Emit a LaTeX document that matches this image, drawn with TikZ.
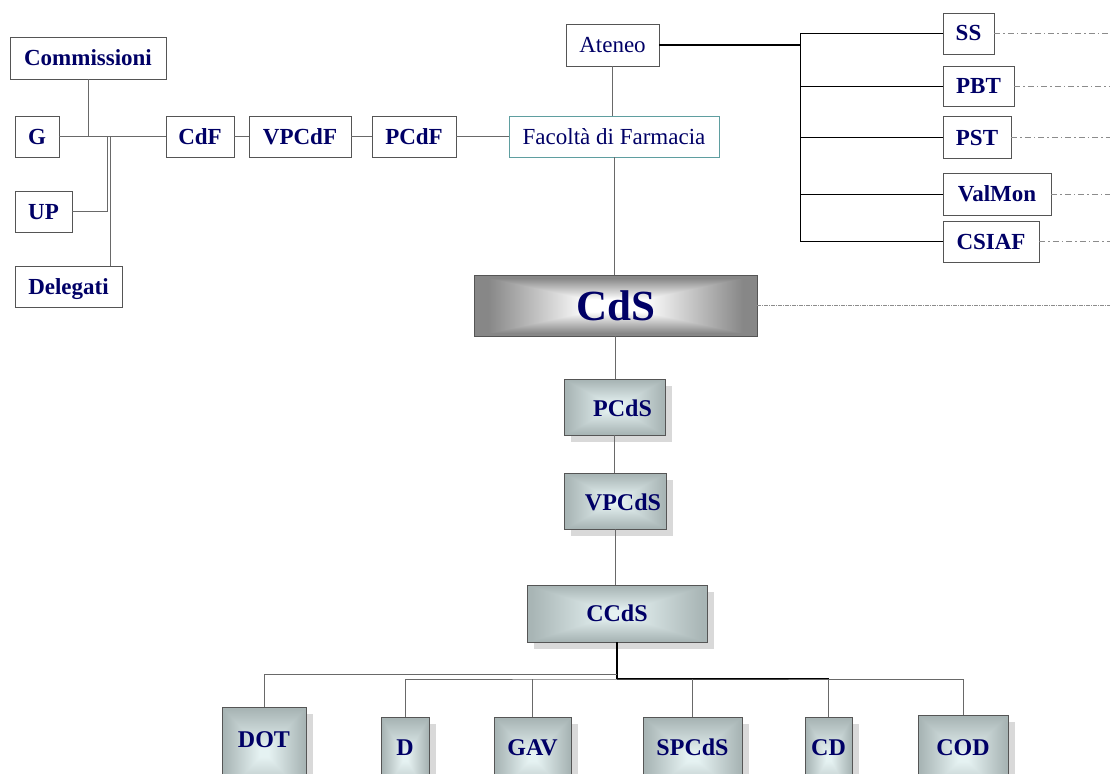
\documentclass[tikz,border=0pt]{standalone}
\usepackage{fontspec}
\setmainfont{Liberation Serif}
\usetikzlibrary{shadows}
\definecolor{navy}{RGB}{0,0,102}
\definecolor{tealb}{RGB}{95,158,160}
\definecolor{boxline}{RGB}{85,85,85}
\definecolor{conn}{RGB}{105,105,105}
\definecolor{dashc}{RGB}{140,140,140}
\pgfdeclarefunctionalshading{cdsgrad}{\pgfpoint{-50bp}{-50bp}}{\pgfpoint{50bp}{50bp}}{}{abs exch abs 2 copy lt {exch} if pop 25 div 0.2 sub 0.7 div dup 0 lt {pop 0} if dup 1 gt {pop 1} if 0.47 mul 1 exch sub dup dup}
\pgfdeclarefunctionalshading{bluegrad}{\pgfpoint{-50bp}{-50bp}}{\pgfpoint{50bp}{50bp}}{}{abs exch abs 2 copy lt {exch} if pop 25 div 0.1 sub 0.85 div dup 0 lt {pop 0} if dup 1 gt {pop 1} if dup 0.24 mul 0.90 exch sub exch 0.24 mul 0.95 exch sub dup}
\tikzset{
  plain/.style={draw=boxline, line width=0.8pt, fill=white, inner sep=0pt, text=navy,
    text height=15pt, text depth=0pt,
    font=\fontsize{23}{23}\selectfont\bfseries},
  plainreg/.style={plain, font=\fontsize{23}{23}\selectfont},
  gbox/.style={draw=boxline, line width=0.8pt, shade, shading=bluegrad, inner sep=0pt,
    drop shadow={shadow xshift=7pt, shadow yshift=-7pt, fill=black!15, opacity=1}},
  lbl/.style={text=navy, inner sep=0pt, text height=16pt, text depth=0pt,
    font=\fontsize{24}{24}\selectfont\bfseries},
  conline/.style={draw=conn, line width=0.8pt},
  busline/.style={draw=black, line width=0.8pt},
  dashline/.style={draw=dashc, line width=0.8pt, dash pattern=on 6pt off 3pt on 1.5pt off 3pt},
  densedash/.style={draw=dashc, line width=1pt, dash pattern=on 4pt off 1pt on 1pt off 1pt},
}
\begin{document}
\begin{tikzpicture}[x=1pt,y=-1pt]
\useasboundingbox (0,0) rectangle (1110,773);
\clip (0,0) rectangle (1110,773);
\fill[white] (0,0) rectangle (1110,773);

% left group
\node[plain, minimum width=156, minimum height=42] (comm) at (88,58) {Commissioni};
\node[plain, minimum width=44, minimum height=41] (G) at (37,136.5) {G};
\node[plain, minimum width=57, minimum height=41] (UP) at (43.5,211.5) {UP};
\node[plain, minimum width=107, minimum height=41] (Del) at (68.5,286.5) {Delegati};
\node[plain, minimum width=68, minimum height=41] (CdF) at (200,136.5) {CdF};
\node[plain, minimum width=102, minimum height=41] (VPCdF) at (300,136.5) {VPCdF};
\node[plain, minimum width=84, minimum height=41] (PCdF) at (414,136.5) {PCdF};
\node[plainreg, draw=tealb, minimum width=210, minimum height=41] (Fac) at (614,136.5) {Facoltà di Farmacia};
\node[plainreg, minimum width=93, minimum height=42] (Ateneo) at (612.5,45) {Ateneo};

% right group
\node[plain, minimum width=51, minimum height=41] (SS) at (968.5,33.5) {SS};
\node[plain, minimum width=71, minimum height=40] (PBT) at (978.5,86) {PBT};
\node[plain, minimum width=68, minimum height=42] (PST) at (977,137.5) {PST};
\node[plain, minimum width=108, minimum height=42] (ValMon) at (997,194) {ValMon};
\node[plain, minimum width=96, minimum height=41] (CSIAF) at (991,241.5) {CSIAF};

\coordinate (busx) at (800,0);
\coordinate (redge) at (1110,0);
\coordinate (j1) at (107,136.5);
\coordinate (j2) at (110,136.5);

% CdS chain
\node[draw=boxline, line width=0.8pt, shade, shading=cdsgrad, inner sep=0pt,
  minimum width=283, minimum height=61, text=navy, text height=29pt, text depth=0pt,
  font=\fontsize{43}{43}\selectfont\bfseries] (CdS) at (615.5,305.5) {CdS};
\node[gbox, minimum width=101, minimum height=56] (PCdS) at (614.5,407) {};
\node[lbl] (PCdSt) at (622.5,408) {PCdS};
\node[gbox, minimum width=102, minimum height=56] (VPCdS) at (615,501) {};
\node[lbl] (VPCdSt) at (623,502) {VPCdS};
\node[gbox, minimum width=180, minimum height=57] (CCdS) at (617,613.5) {};
\node[lbl] (CCdSt) at (617,613) {CCdS};

% bottom row
\node[gbox, minimum width=84, minimum height=90] (DOT) at (264,752) {};
\node[lbl] (DOTt) at (264,739) {DOT};
\node[gbox, minimum width=48, minimum height=80] (D) at (405,757) {};
\node[lbl] (Dt) at (405,747) {D};
\node[gbox, minimum width=77, minimum height=80] (GAV) at (532.5,757) {};
\node[lbl] (GAVt) at (532.5,747) {GAV};
\node[gbox, minimum width=99, minimum height=80] (SPCdS) at (692.5,757) {};
\node[lbl] (SPCdSt) at (692.5,747) {SPCdS};
\node[gbox, minimum width=47, minimum height=80] (CD) at (828.5,757) {};
\node[lbl] (CDt) at (828.5,747) {CD};
\node[gbox, minimum width=90, minimum height=84] (COD) at (963,757) {};
\node[lbl] (CODt) at (963,747) {COD};

\coordinate (bup) at (617,674);
\coordinate (blow) at (617,679);

% left connectors
\draw[conline] (G.east) -- (CdF.west);
\draw[conline, line width=1.8pt] (j1) -- (CdF.west);
\draw[conline] (comm.south) -- (comm.south |- G.east);
\draw[conline] (UP.east) -| (j1);
\draw[conline] (j2) -- (j2 |- Del.north);
\draw[conline] (CdF.east) -- (VPCdF.west);
\draw[conline] (VPCdF.east) -- (PCdF.west);
\draw[conline] (PCdF.east) -- (Fac.west);

% vertical chain
\draw[conline] (Ateneo.south) -- (Ateneo.south |- Fac.north);
\draw[conline] (Fac.south) -- (Fac.south |- CdS.north);
\draw[conline] (CdS.south) -- (CdS.south |- PCdS.north);
\draw[conline] (PCdS.south) -- (PCdS.south |- VPCdS.north);
\draw[conline] (VPCdS.south) -- (VPCdS.south |- CCdS.north);

% right bus
\draw[busline, line width=1.5pt] (Ateneo.east) -- (Ateneo.east -| busx);
\draw[busline] (busx |- SS.west) -- (busx |- CSIAF.west);
\draw[busline] (busx |- SS.west) -- (SS.west);
\draw[busline] (busx |- PBT.west) -- (PBT.west);
\draw[busline] (busx |- PST.west) -- (PST.west);
\draw[busline] (busx |- ValMon.west) -- (ValMon.west);
\draw[busline] (busx |- CSIAF.west) -- (CSIAF.west);

% dash-dot lines to the right edge
\draw[dashline] (SS.east) -- (SS.east -| redge);
\draw[dashline] (PBT.east) -- (PBT.east -| redge);
\draw[dashline] (PST.east) -- (PST.east -| redge);
\draw[dashline] (ValMon.east) -- (ValMon.east -| redge);
\draw[dashline] (CSIAF.east) -- (CSIAF.east -| redge);
\draw[densedash] (CdS.east) -- (CdS.east -| redge);

% bottom connectors
\draw[busline, line width=1.5pt] (CCdS.south) -- (blow);
\draw[busline, line width=1.5pt] (blow) -- (blow -| CD.north);
\draw[conline] (DOT.north) |- (bup);
\draw[conline] (D.north) |- (blow) -| (COD.north);
\draw[conline] (GAV.north) -- (GAV.north |- blow);
\draw[conline] (SPCdS.north) -- (SPCdS.north |- blow);
\draw[conline] (CD.north) -- (CD.north |- blow);
\end{tikzpicture}
\end{document}
